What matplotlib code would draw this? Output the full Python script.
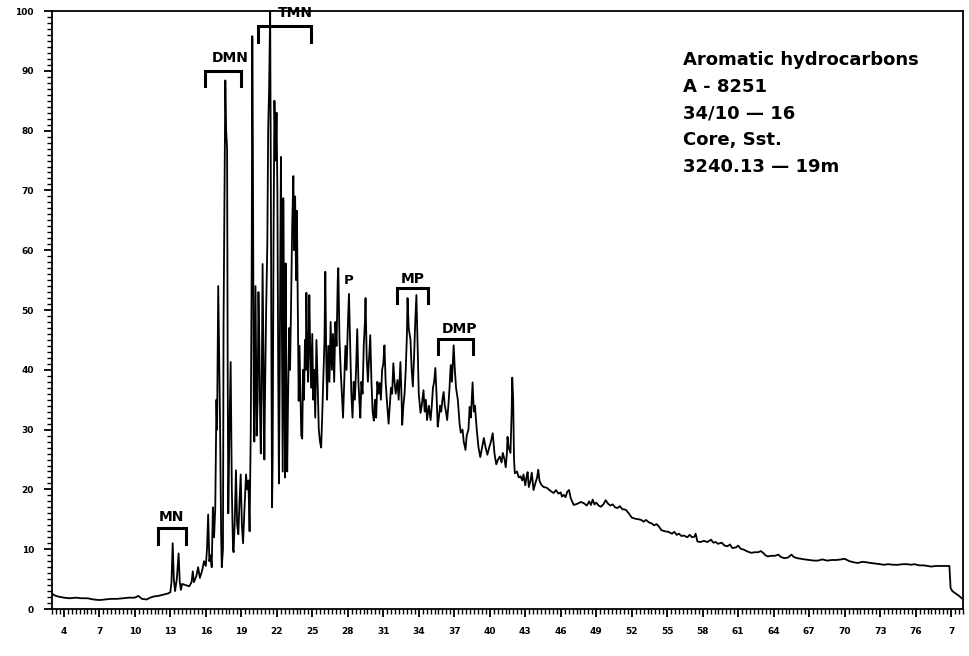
import numpy as np
import matplotlib.pyplot as plt
from matplotlib.ticker import MultipleLocator, FixedLocator

# retention time (min) and relative abundance (%)
rt = [3.0, 3.2, 3.5, 4.0, 4.5, 5.0, 5.5, 6.0, 6.5, 7.0, 7.5, 8.0, 8.5, 9.0, 9.5, 10.0,
      10.3, 10.6, 11.0, 11.3, 11.6, 12.0, 12.4, 12.8, 13.0,
      13.1, 13.2, 13.3, 13.4, 13.55, 13.7, 13.8, 13.9, 14.0, 14.3, 14.6, 14.8, 14.9, 15.0,
      15.2, 15.35, 15.5, 15.7, 15.85, 16.0, 16.1, 16.2, 16.3, 16.4, 16.5, 16.6, 16.7, 16.8,
      16.9, 16.95, 17.05, 17.15, 17.2, 17.3, 17.35, 17.45, 17.5, 17.6, 17.65, 17.72, 17.8,
      17.85, 17.9, 18.0, 18.1, 18.2, 18.3, 18.35, 18.45, 18.55, 18.65, 18.75, 18.85, 18.95,
      19.05, 19.15, 19.25, 19.4, 19.5, 19.6, 19.7, 19.8, 19.88, 19.93, 19.98, 20.05, 20.1,
      20.15, 20.2, 20.25, 20.3, 20.38, 20.45, 20.52, 20.6, 20.65, 20.72, 20.8, 20.88, 20.95,
      21.0, 21.1, 21.2, 21.27, 21.35, 21.44, 21.5, 21.55, 21.6, 21.65, 21.72, 21.8, 21.9,
      21.98, 22.05, 22.12, 22.18, 22.25, 22.3, 22.35, 22.42, 22.5, 22.55, 22.62, 22.7, 22.75,
      22.82, 22.88, 22.95, 23.05, 23.12, 23.2, 23.3, 23.4, 23.47, 23.55, 23.63, 23.7, 23.78,
      23.85, 23.92, 24.0, 24.07, 24.15, 24.22, 24.3, 24.38, 24.45, 24.5, 24.58, 24.65, 24.75,
      24.82, 24.9, 25.0, 25.08, 25.15, 25.25, 25.35, 25.45, 25.55, 25.65, 25.75, 25.85, 25.95,
      26.03, 26.1, 26.18, 26.25, 26.35, 26.45, 26.55, 26.65, 26.75, 26.85, 26.95, 27.05,
      27.15, 27.2, 27.3, 27.4, 27.5, 27.6, 27.7, 27.8, 27.9, 28.0, 28.1, 28.2, 28.3, 28.4,
      28.5, 28.6, 28.7, 28.8, 28.9, 29.0, 29.06, 29.15, 29.25, 29.35, 29.45, 29.5, 29.6, 29.7,
      29.8, 29.9, 30.0, 30.1, 30.2, 30.3, 30.4, 30.5, 30.6, 30.7, 30.8, 30.9, 31.0, 31.1,
      31.2, 31.3, 31.45, 31.55, 31.65, 31.75, 31.85, 31.95, 32.05, 32.2, 32.3, 32.45, 32.55,
      32.6, 32.7, 32.8, 32.9, 33.0, 33.05, 33.15, 33.3, 33.4, 33.5, 33.6, 33.7, 33.8, 33.9,
      34.0, 34.15, 34.25, 34.4, 34.5, 34.6, 34.7, 34.85, 35.0, 35.1, 35.2, 35.3, 35.4, 35.5,
      35.6, 35.7, 35.8, 35.9, 36.0, 36.1, 36.2, 36.3, 36.4, 36.5, 36.6, 36.7, 36.8, 36.95,
      37.05, 37.15, 37.3, 37.45, 37.55, 37.7, 37.8, 37.95, 38.05, 38.2, 38.3, 38.4, 38.55,
      38.65, 38.75, 38.9, 39.05, 39.2, 39.35, 39.5, 39.65, 39.8, 39.95, 40.1, 40.25, 40.4,
      40.55, 40.7, 40.85, 41.0, 41.1, 41.25, 41.35, 41.45, 41.5, 41.6, 41.75, 41.85, 41.9,
      41.98, 42.05, 42.12, 42.3, 42.45, 42.6, 42.75, 42.85, 43.0, 43.1, 43.2, 43.3, 43.45,
      43.55, 43.7, 43.85, 44.0, 44.1, 44.2, 44.35, 44.55, 44.8, 45.1, 45.4, 45.6, 45.8, 46.0,
      46.1, 46.25, 46.4, 46.55, 46.7, 46.85, 47.1, 47.4, 47.7, 47.95, 48.2, 48.4, 48.55, 48.7,
      48.85, 49.0, 49.2, 49.4, 49.6, 49.8, 50.0, 50.2, 50.4, 50.6, 50.8, 51.0, 51.2, 51.5,
      51.75, 52.0, 52.3, 52.6, 52.8, 53.0, 53.2, 53.45, 53.7, 53.9, 54.1, 54.3, 54.5, 54.8,
      55.1, 55.4, 55.6, 55.8, 56.0, 56.2, 56.4, 56.7, 56.9, 57.1, 57.3, 57.4, 57.55, 57.8,
      58.1, 58.4, 58.7, 58.9, 59.1, 59.3, 59.6, 59.85, 60.1, 60.3, 60.5, 60.8, 61.0, 61.2,
      61.5, 61.8, 62.1, 62.4, 62.7, 62.9, 63.1, 63.3, 63.5, 63.8, 64.1, 64.4, 64.6, 64.9,
      65.2, 65.5, 65.7, 66.0, 66.3, 66.6, 67.0, 67.4, 67.75, 68.1, 68.5, 68.9, 69.3, 69.7,
      70.0, 70.4, 70.8, 71.1, 71.5, 71.9, 72.2, 72.6, 73.0, 73.3, 73.7, 74.1, 74.5, 74.9,
      75.3, 75.6, 75.9, 76.3, 76.7, 77.0, 77.3, 77.7, 78.1, 78.5, 78.85, 78.95, 79.1, 79.3,
      79.6, 79.9, 80.0]

abundance = [2.6, 2.3, 2.1, 1.9, 1.8, 1.9, 1.8, 1.8, 1.6, 1.5, 1.6, 1.7, 1.7, 1.8, 1.9, 1.9,
             2.2, 1.7, 1.6, 1.9, 2.1, 2.2, 2.4, 2.6, 2.8,
             4.5, 11.0, 5.0, 3.0, 5.0, 9.3, 4.5, 3.2, 4.2, 4.0, 3.8, 4.5, 6.3, 4.5,
             5.5, 7.0, 5.2, 6.5, 8.0, 7.2, 10.0, 15.8, 8.0, 9.0, 7.0, 17.0, 12.0, 17.0,
             35.0, 30.0, 54.0, 40.0, 31.8, 12.0, 7.0, 10.0, 47.6, 75.0, 88.4, 80.0, 77.0,
             40.0, 16.0, 30.0, 41.3, 20.0, 10.0, 9.5, 15.0, 23.2, 14.0, 12.5, 18.0, 22.5,
             14.0, 11.0, 16.0, 22.5, 20.0, 21.5, 13.0, 30.0, 58.0, 95.8, 77.0, 35.0, 28.0,
             40.0, 54.0, 42.0, 29.0, 35.0, 53.0, 45.0, 31.0, 26.0, 35.0, 57.7, 40.0, 25.0,
             35.0, 50.0, 61.0, 80.0, 87.0, 100.0, 70.0, 40.0, 17.0, 25.0, 60.0, 85.0, 75.0,
             83.0, 70.0, 40.0, 21.0, 40.0, 60.0, 75.6, 50.0, 23.0, 68.7, 45.0, 22.0, 57.8,
             35.0, 23.0, 35.0, 47.0, 40.0, 50.0, 64.0, 72.4, 60.0, 69.0, 55.0, 66.6, 50.0,
             34.8, 44.0, 36.0, 29.0, 28.5, 40.0, 35.0, 45.0, 40.0, 52.9, 42.0, 38.0, 52.5,
             44.0, 37.0, 46.0, 35.0, 40.0, 32.0, 45.0, 38.0, 30.0, 28.0, 27.0, 33.0, 40.0,
             45.0, 56.4, 42.0, 35.0, 44.0, 38.0, 48.0, 40.0, 46.0, 38.0, 48.0, 44.0,
             55.0, 57.0, 45.0, 40.0, 36.0, 32.0, 38.0, 44.0, 40.0, 47.0, 52.7, 44.0, 36.0, 32.0,
             38.0, 35.0, 40.0, 46.8, 38.0, 34.0, 32.0, 38.0, 36.0, 44.0, 48.0, 52.0, 42.0, 38.0,
             42.0, 45.8, 38.0, 33.0, 31.5, 35.0, 32.0, 38.0, 36.0, 37.8, 35.0, 40.0, 41.0, 44.1,
             38.0, 35.0, 31.0, 34.0, 37.0, 36.0, 41.1, 38.0, 36.0, 38.3, 35.0, 41.3, 35.0,
             30.8, 34.0, 36.0, 40.0, 46.0, 52.0, 47.0, 45.0, 40.0, 37.2, 42.0, 48.0, 52.5, 44.0,
             36.0, 32.8, 34.0, 36.6, 33.0, 35.0, 31.6, 34.0, 31.6, 34.0, 37.0, 38.0, 40.3, 36.0,
             30.5, 32.0, 34.0, 33.0, 35.0, 36.3, 34.0, 33.0, 31.6, 34.0, 37.0, 40.8, 38.0, 44.1,
             40.0, 37.0, 35.0, 31.0, 29.5, 30.0, 28.0, 26.6, 29.0, 30.0, 33.8, 32.0, 37.9,
             33.0, 34.0, 30.0, 27.0, 25.4, 27.0, 28.6, 27.0, 25.8, 27.0, 28.0, 29.4, 26.0,
             24.2, 25.0, 25.5, 24.5, 26.1, 25.0, 23.7, 26.0, 28.8, 27.0, 26.1, 33.0, 38.7,
             35.0, 25.0, 22.7, 23.0, 22.0, 22.2, 21.5, 22.5, 20.7, 22.0, 22.9, 20.4, 21.5,
             22.8, 19.9, 21.0, 22.0, 23.3, 21.5, 20.8, 20.4, 20.3, 19.8, 19.4, 19.9, 19.3, 19.5,
             18.8, 19.1, 18.7, 19.6, 19.9, 18.5, 17.4, 17.6, 17.9, 17.7, 17.3, 18.0, 17.4, 18.3,
             17.5, 17.8, 17.3, 17.1, 17.5, 18.2, 17.6, 17.3, 17.5, 17.0, 16.9, 17.2, 16.7, 16.6,
             16.0, 15.3, 15.1, 15.0, 14.9, 14.6, 14.9, 14.5, 14.3, 14.0, 14.2, 13.8, 13.2, 13.0,
             12.9, 12.6, 12.9, 12.4, 12.6, 12.2, 12.3, 12.0, 12.4, 12.0, 12.1, 12.6, 11.3, 11.2,
             11.4, 11.2, 11.6, 11.1, 11.2, 10.9, 11.1, 10.6, 10.5, 10.8, 10.2, 10.3, 10.6, 10.1,
             9.9, 9.6, 9.4, 9.5, 9.5, 9.7, 9.4, 9.0, 8.8, 8.9, 8.9, 9.1, 8.7, 8.5,
             8.6, 9.1, 8.7, 8.5, 8.4, 8.3, 8.2, 8.1, 8.1, 8.3, 8.1, 8.2, 8.2, 8.3,
             8.4, 8.0, 7.8, 7.7, 7.9, 7.8, 7.7, 7.6, 7.5, 7.4, 7.5, 7.4, 7.4, 7.5,
             7.5, 7.4, 7.5, 7.3, 7.3, 7.2, 7.1, 7.2, 7.2, 7.2, 7.2, 3.5, 3.0, 2.7,
             2.3, 1.8, 1.6]

# compound group brackets: label, start, end, bracket top, label position
groups = ["MN", "DMN", "TMN", "MP", "DMP"]
grp_start = [12.0, 15.95, 20.45, 32.2, 35.65]
grp_end = [14.35, 19.0, 24.85, 34.75, 38.55]
grp_top = [13.5, 90.0, 97.5, 53.7, 45.2]
grp_label_x = [13.1, 18.05, 23.55, 33.45, 37.45]
grp_label_y = [15.4, 92.1, 99.7, 55.2, 46.8]

# single peak label
peak_label = "P"
peak_x = 28.1
peak_y = 55.0

x_ticks = [4, 7, 10, 13, 16, 19, 22, 25, 28, 31, 34, 37, 40, 43, 46, 49, 52, 55, 58,
           61, 64, 67, 70, 73, 76, 79]
x_ticklabels = [str(t) for t in x_ticks[:-1]] + ["7"]

info = ["Aromatic hydrocarbons", "A - 8251", "34/10 \u2014 16", "Core, Sst.",
        "3240.13 \u2014 19m"]

fig = plt.figure(figsize=(9.7, 6.56), dpi=100)
ax = fig.add_axes([0.0536, 0.0716, 0.9392, 0.9116])

ax.plot(rt, abundance, color="black", lw=1.3)

ax.set_xlim(3, 80)
ax.set_ylim(0, 100)

ax.set_yticks(np.arange(0, 101, 10))
ax.yaxis.set_minor_locator(MultipleLocator(1))
ax.xaxis.set_major_locator(FixedLocator(x_ticks))
ax.set_xticklabels(x_ticklabels)
ax.xaxis.set_minor_locator(MultipleLocator(1 / 3))

ax.tick_params(which="major", length=6, width=1.3, labelsize=6.5, pad=7)
ax.tick_params(which="minor", length=3.5, width=1.0)
for lab in ax.get_xticklabels() + ax.get_yticklabels():
    lab.set_fontweight("bold")

for sp in ax.spines.values():
    sp.set_linewidth(1.3)

for g, x0, x1, yt, lx, ly in zip(groups, grp_start, grp_end, grp_top, grp_label_x, grp_label_y):
    drop = 2.6
    ax.plot([x0, x0, x1, x1], [yt - drop, yt, yt, yt - drop], color="black", lw=2.2,
            solid_joinstyle="miter", clip_on=False)
    ax.text(lx, ly, g, ha="center", va="center", fontsize=10, fontweight="bold",
            family="DejaVu Sans", clip_on=False)

ax.text(peak_x, peak_y, peak_label, ha="center", va="center", fontsize=9.5,
        fontweight="bold", family="DejaVu Sans")

for i, line in enumerate(info):
    ax.text(0.6926, 0.918 - i * 0.0447, line, transform=ax.transAxes, ha="left", va="center",
            fontsize=13, fontweight="bold", family="DejaVu Sans")

fig.savefig("out.png", dpi=100)
